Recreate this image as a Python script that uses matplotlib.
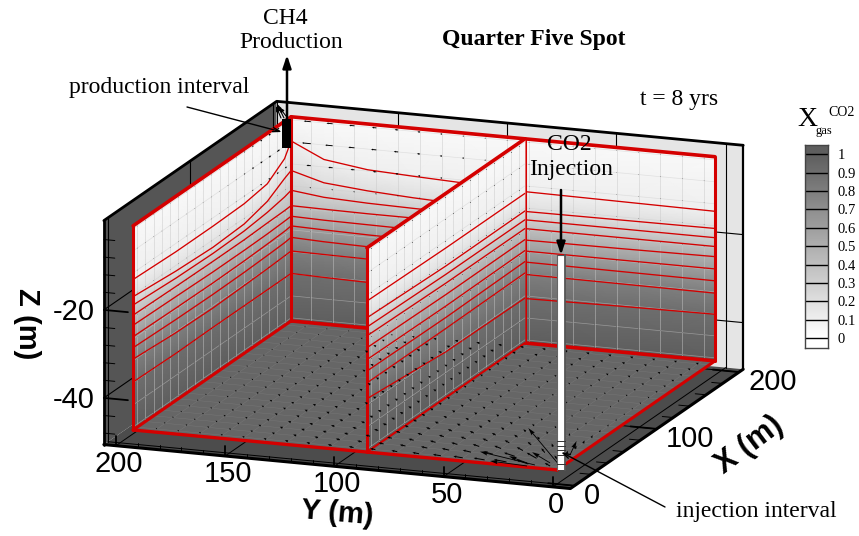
import numpy as np
import matplotlib
matplotlib.use('Agg')
import matplotlib.pyplot as plt
from matplotlib.colors import LinearSegmentedColormap

plt.rcParams['font.family'] = ['Liberation Serif', 'DejaVu Serif']

# contour levels and the depth of each level along the three walls (m)
levels = [0.1, 0.2, 0.3, 0.4, 0.5, 0.6, 0.7, 0.8, 0.9]

back_y = [0, 44, 88, 118, 138, 159, 179, 194]
back_z = [[-13.4, -13.2, -13.0, -12.3, -11.9, -11.4, -10.0, -6.5],
          [-17.3, -17.4, -17.5, -17.2, -16.8, -16.2, -15.3, -13.2],
          [-19.4, -19.4, -19.4, -19.3, -19.2, -19.0, -18.6, -17.7],
          [-21.4, -21.4, -21.4, -21.4, -21.4, -21.4, -21.3, -21.2],
          [-23.7, -23.9, -24.0, -24.0, -24.0, -23.9, -23.8, -23.6],
          [-26.5, -26.5, -26.5, -26.4, -26.3, -26.2, -26.0, -25.8],
          [-29.2, -29.1, -29.0, -29.0, -29.0, -28.9, -28.7, -28.4],
          [-32.0, -31.9, -31.8, -31.8, -31.8, -31.7, -31.6, -31.5],
          [-36.8, -37.0, -37.3, -37.3, -37.2, -37.0, -36.8, -36.6]]

left_x = [0, 52, 97, 135, 163, 184, 192]
left_z = [[-13.2, -13.6, -13.6, -13.4, -12.5, -9.5, -6.5],
          [-17.1, -18.0, -18.4, -18.0, -16.5, -14.0, -13.2],
          [-19.0, -19.6, -19.8, -19.6, -19.0, -18.2, -17.7],
          [-21.3, -21.5, -21.6, -21.6, -21.4, -21.3, -21.2],
          [-23.6, -23.8, -24.0, -24.0, -23.9, -23.7, -23.6],
          [-26.2, -26.4, -26.5, -26.4, -26.2, -26.0, -25.8],
          [-28.7, -29.0, -29.1, -29.0, -28.8, -28.6, -28.4],
          [-31.3, -32.0, -32.2, -32.0, -31.8, -31.6, -31.5],
          [-36.5, -36.7, -36.6, -36.6, -36.6, -36.6, -36.6]]

mid_x = [0, 96, 192]
mid_z = [[-13.1, -13.4, -13.4],
         [-16.9, -17.5, -17.4],
         [-19.0, -19.4, -19.4],
         [-21.0, -21.4, -21.4],
         [-23.7, -24.0, -23.9],
         [-26.4, -26.6, -26.4],
         [-29.0, -29.2, -28.9],
         [-31.7, -31.7, -31.5],
         [-35.3, -37.0, -37.2]]

# mesh nodes
node_xy = [5, 15, 25, 35, 45, 55, 65, 75, 85, 95, 105, 115, 125, 135, 145, 155, 165, 175, 185]
node_z = [-1.7, -6.7, -11.7, -16.7, -21.7, -26.7, -31.7, -36.7, -41.7, -46.7]

# floor velocity, x component in 0.1 m (rows y, columns x), y component is its transpose
floor_u = [[40, 70, 65, 55, 47, 40, 34, 30, 27, 25, 22, 20, 19, 17, 15, 14, 13, 12, 11],
           [45, 72, 64, 53, 45, 39, 34, 30, 27, 25, 23, 21, 19, 17, 15, 14, 13, 12, 11],
           [20, 40, 45, 43, 39, 35, 32, 29, 27, 25, 23, 21, 20, 18, 16, 14, 13, 12, 11],
           [13, 26, 32, 34, 33, 31, 29, 27, 25, 24, 23, 21, 20, 18, 16, 15, 14, 12, 11],
           [11, 19, 25, 28, 28, 28, 27, 26, 24, 23, 22, 21, 20, 18, 17, 15, 14, 12, 11],
           [9, 15, 19, 23, 24, 24, 24, 24, 23, 22, 21, 20, 19, 18, 17, 15, 14, 12, 11],
           [9, 13, 17, 19, 21, 22, 22, 22, 22, 21, 21, 20, 19, 18, 17, 16, 14, 13, 11],
           [9, 11, 15, 17, 19, 20, 20, 21, 21, 20, 20, 20, 19, 18, 17, 16, 14, 13, 11],
           [9, 11, 13, 15, 17, 18, 19, 19, 20, 20, 20, 19, 19, 18, 17, 16, 15, 13, 11],
           [10, 11, 12, 14, 15, 17, 18, 18, 19, 19, 19, 19, 19, 18, 17, 16, 15, 13, 11],
           [11, 11, 12, 13, 14, 15, 17, 17, 18, 19, 19, 19, 19, 18, 17, 16, 15, 13, 10],
           [12, 12, 12, 13, 14, 15, 16, 17, 17, 18, 19, 19, 19, 19, 18, 16, 15, 13, 10],
           [13, 13, 13, 13, 14, 15, 16, 16, 17, 18, 18, 19, 19, 19, 18, 17, 15, 12, 9],
           [14, 14, 14, 14, 14, 15, 15, 16, 17, 18, 18, 19, 20, 20, 19, 18, 15, 11, 7],
           [15, 15, 15, 15, 15, 15, 15, 16, 17, 18, 18, 19, 20, 21, 21, 19, 16, 11, 6],
           [16, 16, 16, 16, 16, 16, 16, 16, 17, 18, 19, 20, 21, 21, 21, 20, 16, 10, 4],
           [16, 16, 16, 16, 16, 17, 17, 17, 18, 19, 19, 20, 20, 19, 18, 15, 12, 8, 3],
           [16, 16, 16, 17, 17, 17, 18, 18, 19, 20, 20, 20, 19, 18, 15, 12, 8, 6, 2],
           [16, 16, 16, 17, 17, 18, 18, 19, 20, 20, 20, 18, 16, 14, 10, 7, 5, 3, 2]]

# large arrows next to the injection well: x, y, u, v in m
big_x = [4.5, 1.8, 6.5, 9.9, 25, 8]
big_y = [11.8, 14.4, 16.2, 6.9, 3.5, 2]
big_u = [12.6, 2.3, 7.7, 14, 22.7, 52.7]
big_v = [29.9, 17.8, 11.1, 13.5, 5.5, 34]

# velocity along the walls towards the production well, 0.1 m (rows node_z, columns node_xy)
wall_u = [[2, 2, 2, 2, 2, 2, 2, 2, 3, 4, 5, 6, 8, 12, 16, 20, 24, 28, 32],
          [2, 2, 2, 2, 2, 2, 2, 3, 4, 5, 6, 8, 10, 14, 20, 24, 28, 34, 40],
          [2, 2, 2, 2, 2, 2, 2, 2, 2, 3, 4, 6, 8, 10, 13, 16, 18, 20, 20],
          [2, 2, 2, 2, 2, 2, 2, 2, 2, 2, 2, 3, 3, 4, 5, 6, 6, 6, 6],
          [1, 1, 1, 1, 1, 1, 1, 2, 2, 2, 2, 2, 2, 2, 2, 2, 3, 3, 3],
          [1, 1, 1, 1, 1, 1, 1, 1, 1, 1, 1, 1, 2, 2, 2, 2, 2, 2, 2],
          [1, 1, 1, 1, 1, 1, 1, 1, 1, 1, 1, 1, 1, 1, 1, 1, 1, 1, 1],
          [1, 1, 1, 1, 1, 1, 1, 1, 1, 1, 1, 1, 1, 1, 1, 1, 1, 1, 1],
          [1, 1, 1, 1, 1, 1, 1, 1, 1, 1, 1, 1, 1, 1, 1, 1, 1, 1, 1],
          [1, 1, 1, 1, 1, 1, 1, 1, 1, 1, 1, 1, 1, 1, 1, 1, 1, 1, 1]]

y_ticks = [0, 50, 100, 150, 200]
x_ticks = [0, 100, 200]
z_ticks = [-20, -40]
bar_ticks = [0, 0.1, 0.2, 0.3, 0.4, 0.5, 0.6, 0.7, 0.8, 0.9, 1]
bar_labels = ['0', '0.1', '0.2', '0.3', '0.4', '0.5', '0.6', '0.7', '0.8', '0.9', '1']

# domain and plot box (m)
DX, DY, MID = 192, 194, 87
ZTOP, ZBOT = -1.0, -47.4
XMIN, XMAX, YMIN, YMAX, ZMIN, ZMAX = -5, 205, -8, 205.5, -50.6, 0.3

RED = '#d40000'
cmap = LinearSegmentedColormap.from_list('xgas', ['#ffffff', '#5e5e5e'])


def proj(x, y, z):
    # parallel view of the box, gives pixel position
    x, y, z = np.asarray(x, float), np.asarray(y, float), np.asarray(z, float)
    return 557 + 0.823 * x - 2.185 * y, 261.4 - 0.568 * x - 0.206 * y - 4.4 * z


def line3(x, y, z, **kw):
    px, py = proj(x, y, z)
    ax.plot(px, py, solid_capstyle='round', **kw)


def fill3(x, y, z, **kw):
    px, py = proj(x, y, z)
    ax.fill(px, py, lw=0, **kw)


def wall(stations, table, to3d, node_list):
    # shaded wall: the mesh rows are the contour levels
    table = np.array(table)
    s = np.array(stations, float)
    Z = np.vstack([np.full(len(s), ZTOP), table, np.full(len(s), ZBOT)])
    S = np.tile(s, (Z.shape[0], 1))
    C = np.array([0.04] + levels + [1.0])[:, None] * np.ones_like(Z)
    xx, yy = to3d(S)
    PX, PY = proj(xx, yy, Z)
    ax.pcolormesh(PX, PY, C, shading='gouraud', cmap=cmap, vmin=0, vmax=1, zorder=ax_z[0])
    for n in node_list:
        xx, yy = to3d(np.array([n, n]))
        line3(xx, yy, [ZTOP, ZBOT], color='#c8c8c8', lw=0.6, alpha=0.55, zorder=ax_z[0])
    for zn in node_z:
        xx, yy = to3d(np.array([s[0], s[-1]]))
        line3(xx, yy, [zn, zn], color='#cccccc', lw=0.5, alpha=0.5, zorder=ax_z[0])
    for row in table:
        xx, yy = to3d(s)
        line3(xx, yy, row, color=RED, lw=0.95, zorder=ax_z[0])


fig = plt.figure(figsize=(8.59, 5.36), dpi=100)
ax = fig.add_axes([0, 0, 1, 1])
ax.set_xlim(0, 859)
ax.set_ylim(536, 0)
ax.axis('off')
ax_z = [2]

# plot box
fill3([XMIN, XMAX, XMAX, XMIN], [YMAX] * 4, [ZMIN, ZMIN, ZMAX, ZMAX], color='#555555', zorder=1)
fill3([XMAX] * 4, [YMIN, YMAX, YMAX, YMIN], [ZMIN, ZMIN, ZMAX, ZMAX], color='#e5e5e5', zorder=1)
fill3([XMIN, XMAX, XMAX, XMIN], [YMIN, YMIN, YMAX, YMAX], [ZMIN] * 4, color='#4c4c4c', zorder=1)

for y in y_ticks:
    if y <= 150:
        line3([XMAX, XMAX], [y, y], [ZMIN, ZMAX], color='k', lw=0.8, zorder=1)
    line3([XMIN, XMAX], [y, y], [ZMIN, ZMIN], color='k', lw=0.7, zorder=1)
for x in x_ticks:
    line3([x, x], [YMAX, YMAX], [ZMIN, ZMAX], color='k', lw=0.8, zorder=1)
    line3([x, x], [YMIN, YMAX], [ZMIN, ZMIN], color='k', lw=0.7, zorder=1)
for z in z_ticks:
    line3([XMAX, XMAX], [YMIN, YMAX], [z, z], color='k', lw=0.8, zorder=1)
    line3([XMIN, XMAX], [YMAX, YMAX], [z, z], color='k', lw=0.8, zorder=1)

# domain floor with its mesh
fill3([0, DX, DX, 0], [0, 0, DY, DY], [ZBOT] * 4, color='#666666', zorder=2)
for n in node_xy:
    line3([n, n], [0, DY], [ZBOT, ZBOT], color='#767676', lw=0.35, zorder=2)
    line3([0, DX], [n, n], [ZBOT, ZBOT], color='#767676', lw=0.35, zorder=2)

# walls, the back ones first
wall(back_y, back_z, lambda s: (np.full(np.shape(s), DX), s), node_xy)
wall(left_x, left_z, lambda s: (s, np.full(np.shape(s), DY)), node_xy)

red_edges = [([0, DX], [DY, DY], [ZTOP, ZTOP], 2.6),
             ([DX, DX], [DY, 0], [ZTOP, ZTOP], 2.6),
             ([0, 0], [DY, DY], [ZTOP, ZBOT], 2.2),
             ([DX, DX], [DY, DY], [ZTOP, ZBOT], 2.2),
             ([DX, DX], [0, 0], [ZTOP, ZBOT], 2.2),
             ([0, DX], [DY, DY], [ZBOT, ZBOT], 2.2),
             ([DX, DX], [DY, 0], [ZBOT, ZBOT], 2.6),
             ([DX, DX], [MID, MID], [ZTOP, ZBOT], 2.2)]
for ex, ey, ez, w in red_edges:
    line3(ex, ey, ez, color=RED, lw=w, zorder=2)

# small vectors on the two back walls
node_a = np.array(node_xy, float)
WZ, WN = np.meshgrid(node_z, node_a, indexing='ij')
WU = np.array(wall_u) / 10
px, py = proj(DX, WN, WZ)
dx, dy = proj(DX, WN + WU, WZ)
ax.quiver(px, py, dx - px, dy - py, angles='xy', scale_units='xy', scale=1, width=0.0011,
          headwidth=2, headlength=2, headaxislength=2, minlength=0.6, color='k', zorder=2)
px, py = proj(WN, DY, WZ)
dx, dy = proj(WN + WU, DY, WZ)
ax.quiver(px, py, dx - px, dy - py, angles='xy', scale_units='xy', scale=1, width=0.0011,
          headwidth=2, headlength=2, headaxislength=2, minlength=0.6, color='k', zorder=2)

# middle sheet
ax_z[0] = 3
wall(mid_x, mid_z, lambda s: (s, np.full(np.shape(s), MID)), node_xy)
line3([0, DX], [MID, MID], [ZTOP, ZTOP], color=RED, lw=2.6, zorder=3)
line3([0, 0], [MID, MID], [ZTOP, ZBOT], color=RED, lw=2.2, zorder=3)
line3([0, DX], [MID, MID], [ZBOT, ZBOT], color=RED, lw=1.5, zorder=3)
px, py = proj(WN, MID, WZ)
ax.scatter(px, py, s=0.6, color='#666666', lw=0, zorder=3)

# floor edges in front of the sheet, then floor vectors
line3([0, DX], [0, 0], [ZBOT, ZBOT], color=RED, lw=2.2, zorder=3)
line3([0, 0], [0, DY], [ZBOT, ZBOT], color=RED, lw=2.4, zorder=3)

FX, FY = np.meshgrid(node_a, node_a)
FU = np.array(floor_u) / 10
FV = FU.T
px, py = proj(FX, FY, ZBOT)
dx, dy = proj(FX + FU, FY + FV, ZBOT)
ax.quiver(px, py, dx - px, dy - py, angles='xy', scale_units='xy', scale=1, width=0.0012,
          headwidth=2.5, headlength=3, headaxislength=2.5, color='k', zorder=4)
bx, by = np.array(big_x), np.array(big_y)
px, py = proj(bx, by, ZBOT)
dx, dy = proj(bx + np.array(big_u), by + np.array(big_v), ZBOT)
ax.quiver(px, py, dx - px, dy - py, angles='xy', scale_units='xy', scale=1, width=0.001,
          headwidth=5, headlength=9, headaxislength=8, color='k', zorder=4)

# box outline and tick marks
line3([XMIN, XMAX, XMAX], [YMAX, YMAX, YMIN], [ZMAX] * 3, color='k', lw=2, zorder=5)
line3([XMAX, XMAX], [YMIN, YMIN], [ZMIN, ZMAX], color='k', lw=1.6, zorder=5)
line3([XMAX, XMAX], [YMAX, YMAX], [ZMIN, ZMAX], color='k', lw=0.8, zorder=1)
line3([XMIN, XMIN], [YMAX, YMAX], [ZMIN, ZMAX], color='k', lw=2, zorder=5)
line3([XMAX, XMIN, XMIN], [YMIN, YMIN, YMAX], [ZMIN] * 3, color='k', lw=2.2, zorder=5)
for y in np.arange(0, 201, 10):
    h = 2.2 if y % 50 == 0 else 1.0
    line3([XMIN, XMIN], [y, y], [ZMIN, ZMIN + h], color='k', lw=1.3 if y % 50 == 0 else 0.7, zorder=5)
for z in np.arange(-48, 0, 4):
    h = 11 if z % 20 == 0 else 5
    line3([XMIN, XMIN], [YMAX, YMAX - h], [z, z], color='k', lw=1.3 if z % 20 == 0 else 0.7, zorder=5)
for x in np.arange(0, 201, 20):
    h = 12 if x % 100 == 0 else 5
    line3([x, x], [YMIN, YMIN + h], [ZMIN, ZMIN], color='k', lw=1.3 if x % 100 == 0 else 0.7, zorder=5)

# wells
ax.fill([557, 565, 565, 557], [255, 255, 470, 470], color='white', lw=0, zorder=6)
ax.plot([557, 557], [255, 470], color='#666666', lw=0.8, zorder=6)
ax.plot([565, 565], [255, 470], color='#555555', lw=1.3, zorder=6)
ax.plot([557, 565], [255, 255], color='#555555', lw=0.8, zorder=6)
for yy in [441, 446, 450, 455, 464]:
    ax.plot([557, 565], [yy, yy], color='#333333', lw=0.7, zorder=6)
ax.fill([282, 291, 291, 282], [119, 119, 148, 148], color='k', lw=0, zorder=6)
ax.annotate('', xy=(287, 55), xytext=(287, 120), zorder=7,
            arrowprops=dict(arrowstyle='-|>,head_width=0.25,head_length=0.75', color='k', lw=1.8, shrinkA=0, shrinkB=0))
ax.annotate('', xy=(561, 255), xytext=(561, 190), zorder=7,
            arrowprops=dict(arrowstyle='-|>,head_width=0.25,head_length=0.75', color='k', lw=1.8, shrinkA=0, shrinkB=0))
for tx, ty, hx, hy in [(284, 118, 277, 104), (281, 118, 276, 106), (286, 116, 279, 107)]:
    ax.annotate('', xy=(hx, hy), xytext=(tx, ty), zorder=7,
                arrowprops=dict(arrowstyle='-|>,head_width=0.12,head_length=0.3', color='k', lw=0.8, shrinkA=0, shrinkB=0))

# leader lines
ax.annotate('', xy=(282, 132), xytext=(187, 107), zorder=7,
            arrowprops=dict(arrowstyle='->,head_width=0.15,head_length=0.5', color='k', lw=1, shrinkA=0, shrinkB=0))
ax.annotate('', xy=(561, 452), xytext=(665, 507), zorder=7,
            arrowprops=dict(arrowstyle='->,head_width=0.15,head_length=0.5', color='k', lw=1, shrinkA=0, shrinkB=0))

# text
ax.text(285, 18, 'CH4', fontsize=17, ha='center', va='center', zorder=8)
ax.text(291, 43, 'Production', fontsize=17, ha='center', va='center', zorder=8)
ax.text(159, 87, 'production interval', fontsize=17, ha='center', va='center', zorder=8)
ax.text(534, 39, 'Quarter Five Spot', fontsize=17, fontweight='bold', ha='center', va='center', zorder=8)
ax.text(679, 100, 't = 8 yrs', fontsize=17, ha='center', va='center', zorder=8)
ax.text(569, 144, 'CO2', fontsize=17, ha='center', va='center', zorder=8)
ax.text(571, 169, 'Injection', fontsize=17, ha='center', va='center', zorder=8)
ax.text(756, 512, 'injection interval', fontsize=17, ha='center', va='center', zorder=8)

sans = ['Liberation Sans', 'DejaVu Sans']
for y in y_ticks:
    px, py = proj(XMIN, y, ZMIN)
    ax.text(px + 3, py + 18, str(y), family=sans, fontsize=21, ha='center', va='center', zorder=8)
for x in x_ticks:
    px, py = proj(x, YMIN, ZMIN)
    ax.text(px + 9, py + 10, str(x), family=sans, fontsize=21, ha='left', va='center', zorder=8)
for z in z_ticks:
    px, py = proj(XMIN, YMAX, z)
    ax.text(px - 30, py + 2, str(z), family=sans, fontsize=21, ha='center', va='center', zorder=8)
ax.text(27, 324, 'Z (m)', family=sans, fontsize=21, fontweight='bold', rotation=-90,
        ha='center', va='center', zorder=8)
ax.text(337, 513, 'Y (m)', family=sans, fontsize=21, fontweight='bold', rotation=-5,
        ha='center', va='center', zorder=8)
ax.text(749, 445, 'X (m)', family=sans, fontsize=22, fontweight='bold', rotation=37,
        ha='center', va='center', rotation_mode='anchor', zorder=8)

# colour bar
ax.text(807, 120, 'X', fontsize=20, ha='center', va='center', zorder=8)
ax.text(824, 131, 'gas', fontsize=9, ha='center', va='center', zorder=8)
ax.text(842, 112, 'CO2', fontsize=10, ha='center', va='center', zorder=8)

cax = fig.add_axes([805 / 859, 1 - 348 / 536, 23 / 859, 203 / 536])
vals = np.linspace(-0.054, 1.05, 200)[:, None]
cax.imshow(vals, origin='lower', aspect='auto', cmap=cmap, vmin=0, vmax=1.0,
           extent=[0, 1, -0.054, 1.05])
for v in bar_ticks:
    cax.axhline(v, color='k', lw=1)
cax.set_xticks([])
cax.set_yticks(bar_ticks)
cax.set_yticklabels(bar_labels, fontsize=10.5)
cax.yaxis.tick_right()
cax.tick_params(axis='y', length=0, pad=7)
for sp in cax.spines.values():
    sp.set_color('#444444')
    sp.set_linewidth(1)

fig.savefig('out.png', dpi=100)
